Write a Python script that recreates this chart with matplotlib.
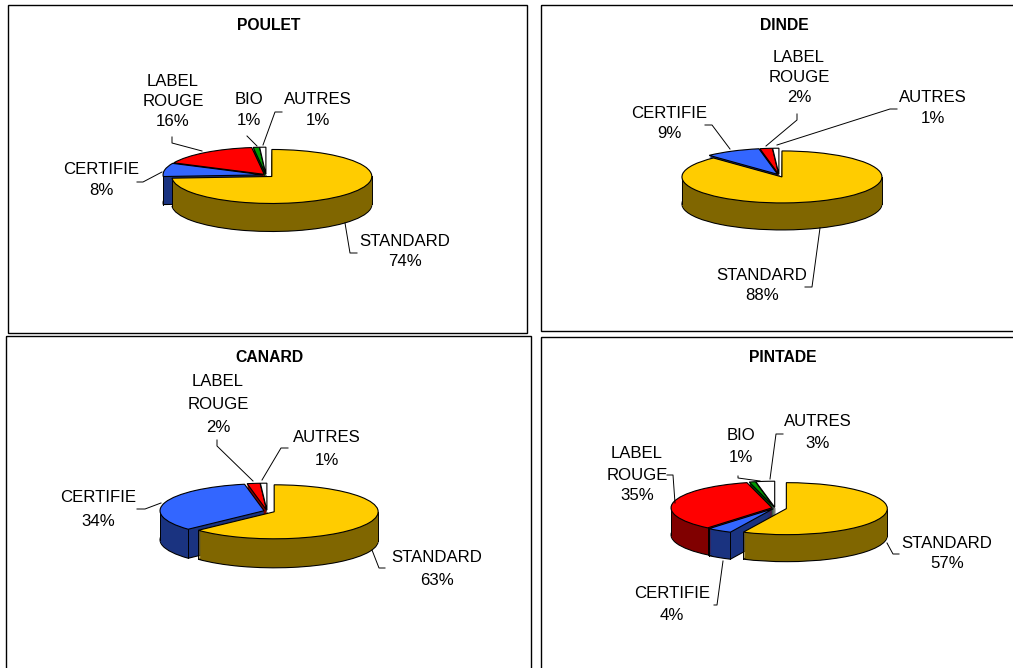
"""Four 3D-looking pie charts of poultry production by label type."""
import math
import matplotlib
matplotlib.use("Agg")
import matplotlib.pyplot as plt
from matplotlib.patches import Rectangle

W, H = 1013, 668
plt.rcParams["font.family"] = ["Liberation Sans", "DejaVu Sans"]

# values, clockwise from 12 o'clock
poulet_names = ["STANDARD", "CERTIFIE", "LABEL\nROUGE", "BIO", "AUTRES"]
poulet_values = [74, 8, 16, 1, 1]
dinde_names = ["STANDARD", "CERTIFIE", "LABEL\nROUGE", "AUTRES"]
dinde_values = [88, 9, 2, 1]
canard_names = ["STANDARD", "CERTIFIE", "LABEL\nROUGE", "AUTRES"]
canard_values = [63, 34, 2, 1]
pintade_names = ["STANDARD", "CERTIFIE", "LABEL\nROUGE", "BIO", "AUTRES"]
pintade_values = [57, 4, 35, 1, 3]

TOP = {"STANDARD": "#FFCC00", "CERTIFIE": "#3366FF", "LABEL\nROUGE": "#FF0000",
       "BIO": "#009900", "AUTRES": "#FFFFFF"}
SIDE = {"STANDARD": "#806600", "CERTIFIE": "#1A3380", "LABEL\nROUGE": "#800000",
        "BIO": "#004C00", "AUTRES": "#808080"}

# title, box, pie centre + radii + depth (px), explode of STANDARD, line step,
# label spots (first line centre), leader lines
panels = [
    dict(title="POULET", tx=269, ty=25, box=(8, 5, 519, 328),
         names=poulet_names, values=poulet_values,
         c=(266, 175), rx=100, ry=27, depth=28, explode=0.08, step=20.5,
         spots=[(405, 241), (101, 170), (173, 81), (249, 100), (318, 100)],
         leaders=[[(345, 223), (350, 253), (357, 253)],
                  [(137, 182), (143, 182), (162, 172)],
                  [(172, 137), (172, 143), (202, 151)],
                  [(247, 136), (257, 146)],
                  [(282, 112), (275, 112), (263, 145)]]),
    dict(title="DINDE", tx=784, ty=25, box=(541, 5, 490, 326),
         names=dinde_names, values=dinde_values,
         c=(779, 175), rx=100, ry=26, depth=27, explode=0.08, step=20.5,
         spots=[(762, 275), (669, 113), (799, 57), (933, 98)],
         leaders=[[(820, 228), (812, 287), (805, 287)],
                  [(705, 125), (712, 125), (730, 149)],
                  [(797, 114), (797, 120), (766, 146)],
                  [(897, 109), (890, 109), (777, 145)]]),
    dict(title="CANARD", tx=269, ty=357, box=(6, 336, 525, 350),
         names=canard_names, values=canard_values,
         c=(267, 511), rx=104, ry=27, depth=29, explode=0.075, step=23.5,
         spots=[(437, 557), (98, 498), (218, 381), (327, 437)],
         leaders=[[(372, 550), (379, 568), (385, 568)],
                  [(137, 509), (145, 509), (161, 503)],
                  [(217, 440), (217, 446), (253, 481)],
                  [(288, 448), (281, 448), (262, 480)]]),
    dict(title="PINTADE", tx=783, ty=357, box=(541, 337, 490, 350),
         names=pintade_names, values=pintade_values,
         c=(775, 508), rx=101, ry=26, depth=27, explode=0.115, step=21,
         spots=[(947, 543), (672, 594), (637, 454), (741, 436), (818, 422)],
         leaders=[[(887, 543), (893, 554), (899, 554)],
                  [(714, 605), (717, 605), (723, 561)],
                  [(667, 475), (673, 475), (675, 503)],
                  [(738, 476), (738, 478), (760, 481)],
                  [(783, 434), (776, 434), (770, 479)]]),
]


def side_edges(ax, wedge, drop):
    # vertical rim lines at the visible outer corners and silhouette of a slice
    cx, cy = wedge.center
    t1, t2 = wedge.theta1 % 360, wedge.theta2 % 360
    angles = [t1, t2]
    for t in (0, 180):
        if (t1 <= t <= t2) if t1 <= t2 else (t >= t1 or t <= t2):
            angles.append(t)
    for t in angles:
        s = math.sin(math.radians(t))
        if s > 0.001:
            continue
        x = cx + math.cos(math.radians(t))
        y = cy + s
        ax.plot([x, x], [y, y - drop], color="black", lw=0.7, zorder=2.5)


def draw_pie(fig, p):
    cx, cy = p["c"]
    rx, ry, depth = p["rx"], p["ry"], p["depth"]
    # axes box in px around the pie, y squashed through the limits
    hw, hh = 1.4 * rx, 2.0 * ry + depth
    ax = fig.add_axes([(cx - hw) / W, 1 - (cy + hh) / H, 2 * hw / W, 2 * hh / H])
    n = max(depth, 2)
    expl = [p["explode"]] + [0.03] * (len(p["values"]) - 1)
    side = [SIDE[k] for k in p["names"]]
    top = [TOP[k] for k in p["names"]]
    drop = depth / ry
    for i in range(n + 1):
        off = -(n - i) / n * drop
        first = i == 0
        last = i == n
        wedges, _ = ax.pie(p["values"], startangle=90, counterclock=False, explode=expl,
                           colors=top if last else side, center=(0, off), radius=1,
                           wedgeprops=dict(edgecolor="black" if first or last else "none",
                                           linewidth=0.8, zorder=3 if last else 1))
        if last:
            for w in wedges:
                side_edges(ax, w, drop)
    ax.set_aspect("auto")
    ax.set_xlim(-hw / rx, hw / rx)
    ax.set_ylim(-hh / ry, hh / ry)
    ax.axis("off")


fig = plt.figure(figsize=(W / 100, H / 100), dpi=100, facecolor="white")
for p in panels:
    draw_pie(fig, p)

# overlay in pixel coordinates for frames, texts and leader lines
ov = fig.add_axes([0, 0, 1, 1], facecolor="none")
ov.set_xlim(0, W)
ov.set_ylim(H, 0)
ov.axis("off")
for p in panels:
    x, y, w, h = p["box"]
    ov.add_patch(Rectangle((x, y), w, h, fill=False, ec="black", lw=1.0))
    ov.text(p["tx"], p["ty"], p["title"], ha="center", va="center",
            fontsize=11.3, fontweight="bold")
    for name, val, (lx, ly), seg in zip(p["names"], p["values"], p["spots"], p["leaders"]):
        lines = name.split("\n") + [f"{val}%"]
        for k, s in enumerate(lines):
            ov.text(lx, ly + k * p["step"], s, ha="center", va="center", fontsize=12.1)
        ov.plot([q[0] for q in seg], [q[1] for q in seg], color="black", lw=0.7)

fig.savefig("out.png", dpi=100)
